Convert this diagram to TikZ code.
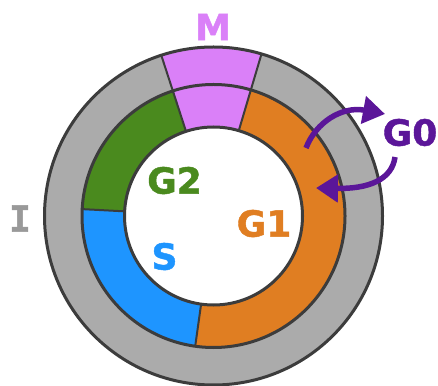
\documentclass[tikz,border=0pt]{standalone}
\usepackage{fontspec}
\setmainfont{DejaVu Sans}[BoldFeatures={FakeBold=1.2}]
\newfontfamily\monobold{DejaVu Sans Mono}[BoldFeatures={FakeBold=1.2}]
\usetikzlibrary{arrows.meta}

\definecolor{ringgray}{HTML}{ABABAB}
\definecolor{edgegray}{HTML}{3C3C3C}
\definecolor{mpink}{HTML}{DA80F8}
\definecolor{ggreen}{HTML}{4A8A1E}
\definecolor{sblue}{HTML}{1E95FF}
\definecolor{gorange}{HTML}{E07E22}
\definecolor{gpurple}{HTML}{5B1699}
\definecolor{igray}{HTML}{999999}

% annular sector: colour, start angle, end angle, inner radius, outer radius
\newcommand\annsector[5]{%
  \fill[#1] (#2:#5) arc[start angle=#2, end angle=#3, radius=#5]
    -- (#3:#4) arc[start angle=#3, end angle=#2, radius=#4] -- cycle;}

\tikzset{
  lbl/.style={font=\fontsize{36}{40}\selectfont\bfseries, inner sep=0pt},
  ringedge/.style={draw=edgegray, line width=3pt},
  divider/.style={draw=edgegray, line width=2pt},
  swap/.style={draw=gpurple, line width=5.5pt,
    -{Triangle[length=22pt, width=27pt]}},
}

\begin{document}
\begin{tikzpicture}[x=1pt, y=1pt]
\useasboundingbox (0,0) rectangle (438,385);

\begin{scope}[shift={(213.5,169)}]
  % outer gray ring
  \fill[ringgray] (0,0) circle[radius=169];
  % M spans both rings
  \annsector{mpink}{73.5}{108}{131.5}{169}
  % inner coloured ring
  \annsector{mpink}{73.5}{108}{89}{131.5}
  \annsector{ggreen}{108}{177}{89}{131.5}
  \annsector{sblue}{177}{262}{89}{131.5}
  \annsector{gorange}{262}{433.5}{89}{131.5}
  \fill[white] (0,0) circle[radius=89];
  % dividers
  \draw[divider] (73.5:89) -- (73.5:169);
  \draw[divider] (108:89) -- (108:169);
  \draw[divider] (177:89) -- (177:131.5);
  \draw[divider] (262:89) -- (262:131.5);
  % ring outlines
  \draw[ringedge] (0,0) circle[radius=169];
  \draw[ringedge] (0,0) circle[radius=131.5];
  \draw[ringedge] (0,0) circle[radius=89];
\end{scope}

% labels
\node[lbl, text=mpink] (m) at (213,358) {M};
\node[lbl, text=ggreen] (g2) at (174.5,204.5) {G2};
\node[lbl, text=gorange] (g1) at (264,161.5) {G1};
\node[lbl, text=sblue] (s) at (164.5,128.5) {S};
\node[lbl, text=igray, font=\fontsize{36}{40}\selectfont\monobold\bfseries] (i) at (20,166.5) {I};
\node[lbl, text=gpurple] (g0) at (410,252.5) {G0};

% exchange arrows around G0
\coordinate (upstart) at (306,237);
\coordinate (upend) at (385,271);
\coordinate (downstart) at (395,228);
\coordinate (downend) at (316,197);
\draw[swap] (upstart) .. controls (316,263) and (342,279) .. (upend);
\draw[swap] (downstart) .. controls (392,205) and (368,196) .. (downend);
\end{tikzpicture}
\end{document}
